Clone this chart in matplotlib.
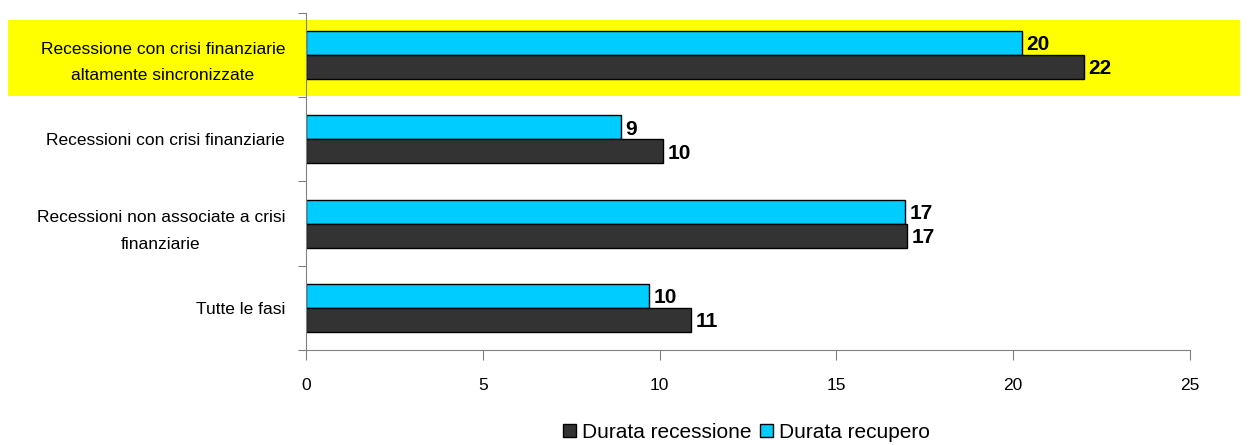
import matplotlib.pyplot as plt
from matplotlib.patches import Rectangle
from matplotlib.transforms import blended_transform_factory

categories = ["Recessione con crisi finanziarie\naltamente sincronizzate",
              "Recessioni con crisi finanziarie",
              "Recessioni non associate a crisi\nfinanziarie",
              "Tutte le fasi"]
recessione = [22.0, 10.1, 17.0, 10.9]
recupero = [20.25, 8.9, 16.95, 9.7]
xticks = [0, 5, 10, 15, 20, 25]

plt.rcParams['font.family'] = ['Liberation Sans', 'DejaVu Sans']

fig = plt.figure(figsize=(12.59, 4.45), dpi=100)
ax = fig.add_axes([0.2430, 0.2135, 0.7022, 0.7573])
ax.patch.set_alpha(0)

pos = list(range(len(categories)))
h = 0.286
ax.barh([p - h / 2 for p in pos], recupero, height=h, color='#00ccff',
        edgecolor='black', linewidth=1, label='Durata recupero')
ax.barh([p + h / 2 for p in pos], recessione, height=h, color='#333333',
        edgecolor='black', linewidth=1, label='Durata recessione')

for p, a, b in zip(pos, recupero, recessione):
    ax.text(a + 0.12, p - h / 2 + 0.02, f"{round(a)}", va='center', ha='left',
            fontsize=15, fontweight='bold')
    ax.text(b + 0.12, p + h / 2 + 0.02, f"{round(b)}", va='center', ha='left',
            fontsize=15, fontweight='bold')

# highlight first category across the figure
tr = blended_transform_factory(fig.transFigure, ax.transData)
fig.patches.append(Rectangle((8 / 1259, -0.417), (1240 - 8) / 1259, 0.905,
                             transform=tr, facecolor='#ffff00',
                             edgecolor='none', zorder=-1))

ax.set_xlim(0, 25)
ax.set_ylim(3.5, -0.5)
ax.set_xticks(xticks)
ax.set_xticklabels([str(t) for t in xticks], fontsize=12.5)
ax.set_yticks([-0.5, 0.5, 1.5, 2.5, 3.5])
ax.set_yticklabels([])
ax.set_yticks(pos, minor=True)
ax.set_yticklabels(categories, minor=True, fontsize=12.5, multialignment='center',
                   linespacing=1.95)
ax.tick_params(axis='y', which='minor', length=0, pad=15)
ax.tick_params(axis='y', which='major', length=6, direction='out', color='#808080')
ax.tick_params(axis='x', length=7, direction='out', color='#808080', pad=13)

for s in ['top', 'right']:
    ax.spines[s].set_visible(False)
for s in ['left', 'bottom']:
    ax.spines[s].set_color('#808080')

handles, labels = ax.get_legend_handles_labels()
fig.legend(handles[::-1], labels[::-1], loc='lower center',
           bbox_to_anchor=(0.593, -0.035), ncol=2, frameon=False,
           fontsize=15, handlelength=0.6, handleheight=0.6,
           handletextpad=0.3, columnspacing=0.4)

fig.savefig('out.png', dpi=100)
